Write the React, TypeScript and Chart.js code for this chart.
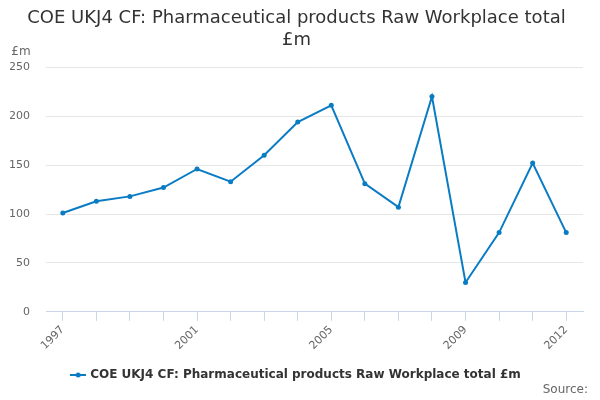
import React, { useEffect, useRef } from "react";
import { Chart, registerables } from "chart.js";

Chart.register(...registerables);

const categories = ["1997","1998","1999","2000","2001","2002","2003","2004","2005","2006","2007","2008","2009","2010","2011","2012"];
const values = [101, 113, 118, 127, 146, 133, 160, 194, 211, 131, 107, 220, 30, 81, 152, 81];
const shownLabels = ["1997", "2001", "2005", "2009", "2012"];
const yTicks = [0, 50, 100, 150, 200, 250];
const seriesName = "COE UKJ4 CF: Pharmaceutical products Raw Workplace total £m";
const titleLines = ["COE UKJ4 CF: Pharmaceutical products Raw Workplace total", "£m"];
const unitLabel = "£m";
const sourceLabel = "Source:";

const FONT = "'DejaVu Sans', sans-serif";
const BLUE = "#0a7cc4";

function makeLegendIcon(): HTMLCanvasElement {
  const c = document.createElement("canvas");
  const dpr = window.devicePixelRatio || 1;
  c.width = 16 * dpr;
  c.height = 8 * dpr;
  c.style.width = "16px";
  c.style.height = "8px";
  const ctx = c.getContext("2d")!;
  ctx.scale(dpr, dpr);
  ctx.strokeStyle = BLUE;
  ctx.lineWidth = 2;
  ctx.beginPath();
  ctx.moveTo(0, 4);
  ctx.lineTo(16, 4);
  ctx.stroke();
  ctx.fillStyle = BLUE;
  ctx.beginPath();
  ctx.arc(8, 4, 2.5, 0, Math.PI * 2);
  ctx.fill();
  return c;
}

export default function App() {
  const ref = useRef<HTMLCanvasElement | null>(null);
  useEffect(() => {
    document.body.style.margin = "0";
    const icon = makeLegendIcon();
    const extras = {
      id: "extras",
      afterDraw(chart: any) {
        const ctx = chart.ctx;
        ctx.save();
        ctx.fillStyle = "#666";
        ctx.font = `12px ${FONT}`;
        ctx.textAlign = "center";
        ctx.textBaseline = "middle";
        ctx.fillText(unitLabel, 21, 52);
        ctx.textAlign = "right";
        ctx.font = `12px ${FONT}`;
        ctx.fillText(sourceLabel, 588, 390);
        ctx.restore();
      },
    };
    const chart = new Chart(ref.current!, {
      type: "line",
      data: {
        labels: categories,
        datasets: [
          {
            label: seriesName,
            data: values,
            borderColor: BLUE,
            backgroundColor: BLUE,
            borderWidth: 2,
            pointRadius: 2.5,
            pointBorderWidth: 0,
            pointHoverRadius: 3,
            tension: 0,
          },
        ],
      },
      options: {
        animation: false,
        responsive: false,
        layout: { padding: { left: 10, right: 17, top: 0, bottom: 9 } },
        plugins: {
          title: {
            display: true,
            text: titleLines,
            color: "#333",
            font: { family: FONT, size: 18, weight: "normal" },
            padding: { top: 8, bottom: 16 },
          },
          legend: {
            display: true,
            position: "bottom",
            labels: {
              usePointStyle: true,
              pointStyle: icon as any,
              color: "#333",
              font: { family: FONT, size: 12, weight: "bold" },
              padding: 14,
            },
          },
          tooltip: { enabled: false },
        },
        scales: {
          x: {
            type: "category",
            offset: true,
            grid: {
              display: true,
              drawOnChartArea: false,
              offset: false,
              color: "#ccd6eb",
              tickLength: 9,
            },
            border: { display: true, color: "#ccd6eb", width: 1 },
            ticks: {
              autoSkip: false,
              maxRotation: 45,
              minRotation: 45,
              padding: 2.5,
              color: "#666",
              font: { family: FONT, size: 11 },
              callback: (_v: any, i: number) =>
                shownLabels.includes(categories[i]) ? categories[i] : "",
            },
          },
          y: {
            min: 0,
            max: 250,
            afterBuildTicks: (axis: any) => {
              axis.ticks = yTicks.map((v) => ({ value: v }));
            },
            afterFit: (axis: any) => {
              axis.width = 36;
            },
            grid: { color: "#e6e6e6", drawTicks: false },
            border: { display: false },
            ticks: {
              color: "#666",
              padding: 16,
              font: { family: FONT, size: 11 },
            },
          },
        },
      },
      plugins: [extras],
    });
    return () => chart.destroy();
  }, []);
  return (
    <div style={{ width: 600, height: 400 }}>
      <canvas ref={ref} width={600} height={400} style={{ width: 600, height: 400 }} />
    </div>
  );
}
